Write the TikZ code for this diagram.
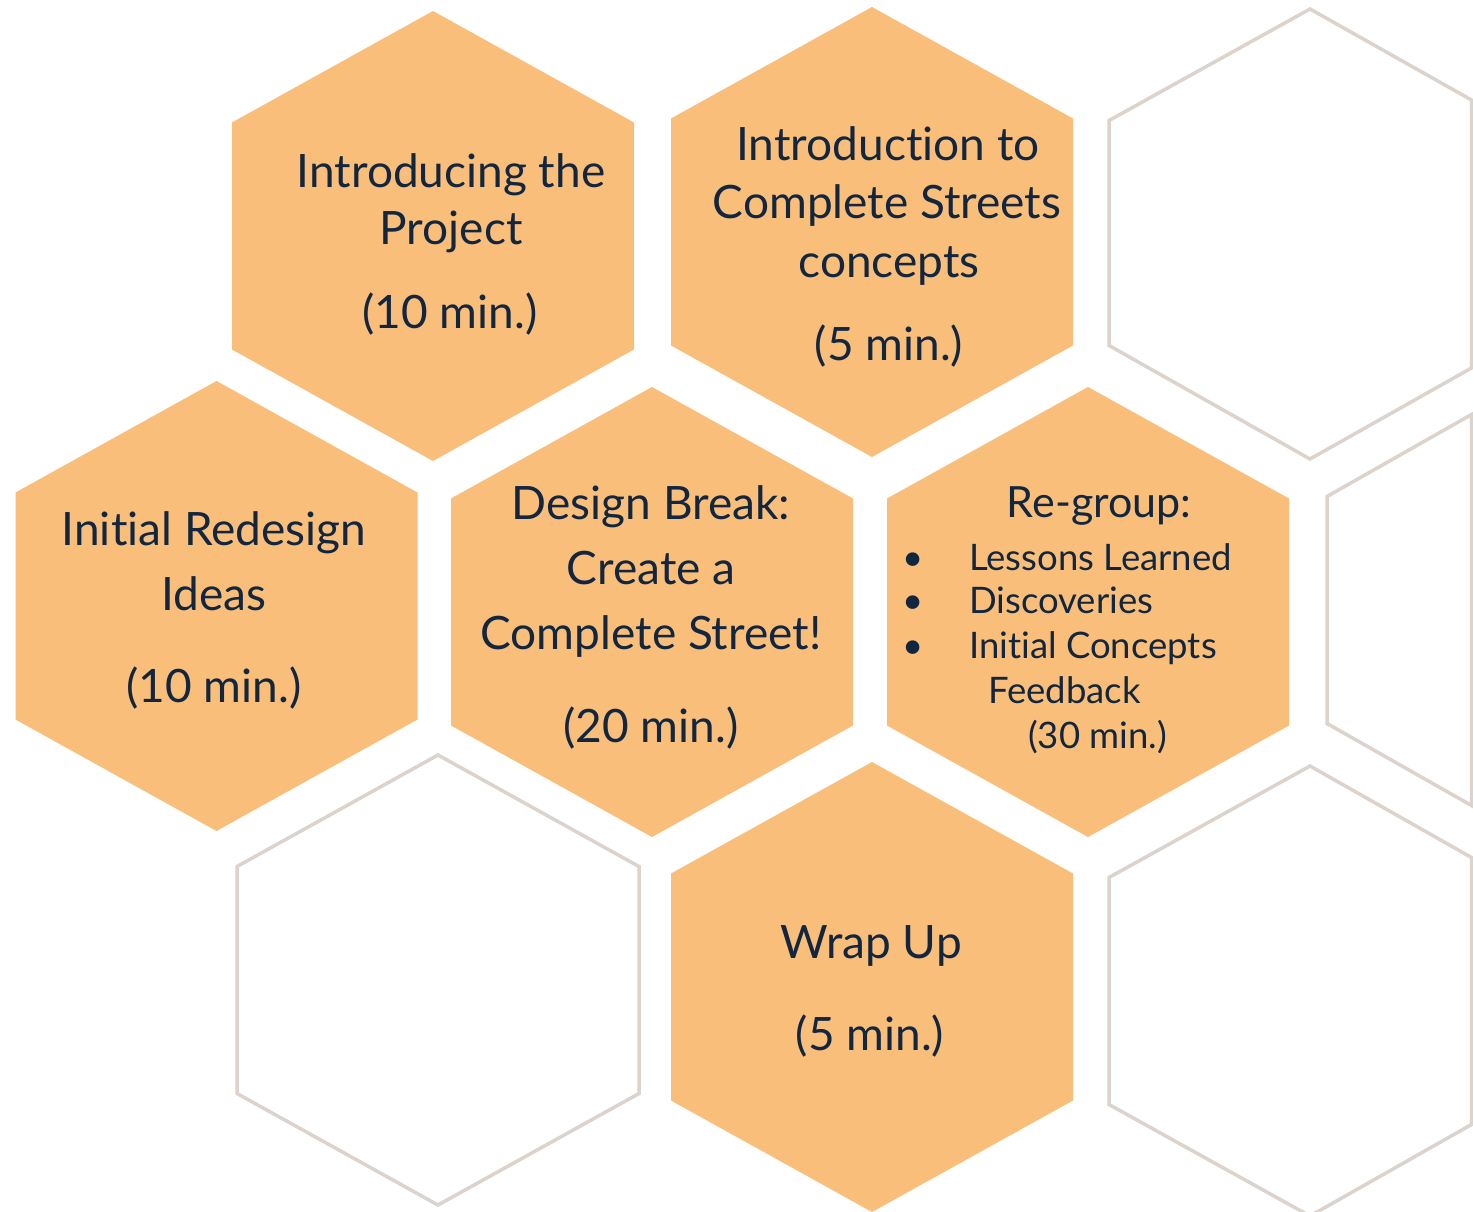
\documentclass[tikz,border=0pt]{standalone}
\usepackage{fontspec}
\setmainfont{Lato}[Ligatures={NoCommon,NoRequired,NoContextual}]
\definecolor{hexfill}{HTML}{F9BE7A}
\definecolor{hexline}{HTML}{DBD3CC}
\definecolor{ink}{HTML}{13263F}
\begin{document}
\begin{tikzpicture}[x=1pt,y=-1pt,
  hexa/.pic={\path[pic actions] (0,-225) -- (201,-113.5) -- (201,113.5) -- (0,225) -- (-201,113.5) -- (-201,-113.5) -- cycle;},
  solidhex/.style={fill=hexfill},
  emptyhex/.style={draw=hexline,line width=3.5pt,line join=miter},
  txt/.style={inner sep=0pt,text=ink,anchor=base,font=\fontsize{46}{55}\selectfont},
  txtsmall/.style={inner sep=0pt,text=ink,anchor=base west,font=\fontsize{36.5}{42}\selectfont},
  bul/.style={inner sep=0pt,text=ink,anchor=base,font=\fontsize{36.5}{42}\selectfont}]
\useasboundingbox (0,0) rectangle (1473,1211);
\fill[white] (0,0) rectangle (1473,1211);
\clip (0,0) rectangle (1473,1211);
% orange hexagons
\pic[solidhex] at (433,236) {hexa};
\pic[solidhex] at (872,232) {hexa};
\pic[solidhex] at (216.5,606) {hexa};
\pic[solidhex] at (652,612) {hexa};
\pic[solidhex] at (1088,612) {hexa};
\pic[solidhex] at (872,987) {hexa};
% empty hexagons
\pic[emptyhex] at (438,980) {hexa};
\path[emptyhex] (1310,9) -- (1471.5,100) -- (1471.5,368) -- (1310,459) -- (1109,345.5) -- (1109,120.5) -- cycle;
\path[emptyhex] (1471.5,414.5) -- (1327,496.5) -- (1327,723.5) -- (1471.5,805.5) -- cycle;
\path[emptyhex] (1310,766) -- (1471.5,857.5) -- (1471.5,1124.5) -- (1310,1216) -- (1109,1104.5) -- (1109,877.5) -- cycle;
% texts
\node[txt] (a1) at (451,187) {Introducing the};
\node[txt] (a2) at (451,244) {Project};
\node[txt] (a3) at (450,328) {(10 min.)};
\node[txt] (b1) at (888,160) {Introduction to};
\node[txt] (b2) at (887,218) {Complete Streets};
\node[txt] (b3) at (889,277) {concepts};
\node[txt] (b4) at (889,360) {(5 min.)};
\node[txt] (c1) at (214,545) {Initial Redesign};
\node[txt] (c2) at (214,610) {Ideas};
\node[txt] (c3) at (214,702) {(10 min.)};
\node[txt] (d1) at (651,519) {Design Break:};
\node[txt] (d2) at (651,584) {Create a};
\node[txt] (d3) at (651,649) {Complete Street!};
\node[txt] (d4) at (651,742) {(20 min.)};
\node[txt,font=\fontsize{43}{50}\selectfont] (e0) at (1099,517) {Re-group:};
\node[bul] (eb1) at (913,570) {•};
\node[bul] (eb2) at (913,613) {•};
\node[bul] (eb3) at (913,658) {•};
\node[txtsmall] (e1) at (969,570) {Lessons Learned};
\node[txtsmall] (e2) at (969,613) {Discoveries};
\node[txtsmall] (e3) at (969,658) {Initial Concepts};
\node[txtsmall] (e4) at (988,703) {Feedback};
\node[txtsmall] (e5) at (1028,748) {(30 min.)};
\node[txt] (f1) at (871,958) {Wrap Up};
\node[txt] (f2) at (870,1050) {(5 min.)};
\end{tikzpicture}
\end{document}
